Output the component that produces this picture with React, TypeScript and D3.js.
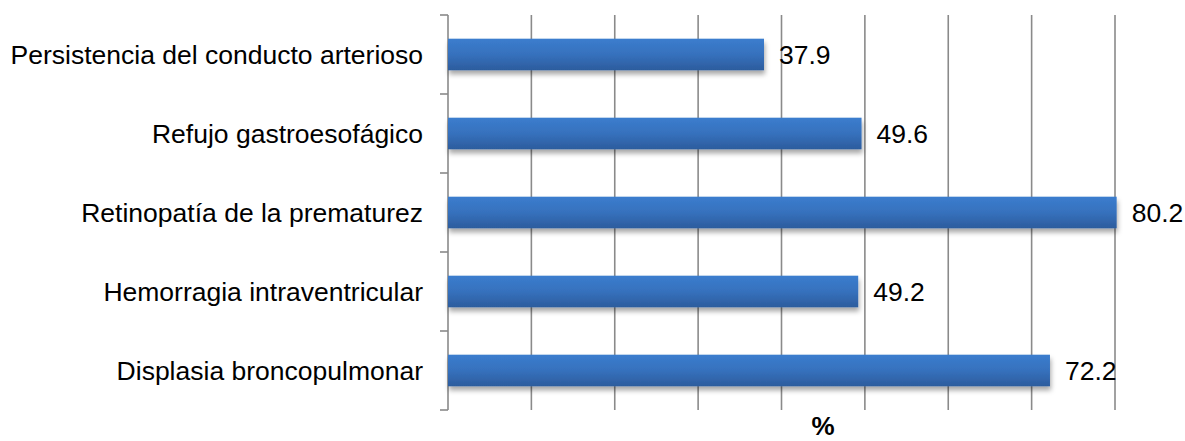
import React from "react";
import * as d3 from "d3";

const categories = [
  "Persistencia del conducto arterioso",
  "Refujo gastroesofágico",
  "Retinopatía de la prematurez",
  "Hemorragia intraventricular",
  "Displasia broncopulmonar",
];
const values = [37.9, 49.6, 80.2, 49.2, 72.2];
const xTicks = [0, 10, 20, 30, 40, 50, 60, 70, 80];
const axisTitle = "%";

const W = 1185;
const H = 441;
const left = 448;
const right = 1115;
const top = 15;
const bottom = 410;

export default function App() {
  const x = d3.scaleLinear().domain([0, 80]).range([left, right]);
  const y = d3.scaleBand<string>().domain(categories).range([top, bottom]).paddingInner(0.6).paddingOuter(0.3);
  const band = d3.scaleBand<string>().domain(categories).range([top, bottom]);
  const font = "'Liberation Sans', Arial, sans-serif";
  const boundaries = [...categories.map((c) => band(c) as number), bottom];
  return (
    <svg width={W} height={H} style={{ position: "absolute", left: 0, top: 0 }}>
      <defs>
        <linearGradient id="barGrad" x1="0" y1="0" x2="0" y2="1">
          <stop offset="0" stopColor="#3b7dce" />
          <stop offset="0.5" stopColor="#3671bd" />
          <stop offset="1" stopColor="#2c5c9d" />
        </linearGradient>
        <filter id="shadow" x="-5%" y="-30%" width="110%" height="180%">
          <feDropShadow dx="1" dy="4" stdDeviation="2.5" floodColor="#000" floodOpacity="0.35" />
        </filter>
      </defs>
      <rect width={W} height={H} fill="#fff" />
      {xTicks.slice(1).map((t) => (
        <line key={t} x1={x(t)} x2={x(t)} y1={top} y2={bottom} stroke="#8a8a8a" strokeWidth={1.6} />
      ))}
      <line x1={left} x2={left} y1={top} y2={bottom} stroke="#8a8a8a" strokeWidth={1.6} />
      {boundaries.map((b, i) => (
        <line key={i} x1={left - 8} x2={left} y1={b} y2={b} stroke="#8a8a8a" strokeWidth={1.6} />
      ))}
      {categories.map((c, i) => (
        <g key={c}>
          <rect
            x={x(0)}
            y={y(c)}
            width={x(values[i]) - x(0)}
            height={y.bandwidth()}
            fill="url(#barGrad)"
            filter="url(#shadow)"
          />
          <text
            x={x(values[i]) + 15}
            y={(y(c) as number) + y.bandwidth() / 2}
            dy="0.36em"
            fontFamily={font}
            fontSize={26.5}
            fill="#000"
          >
            {values[i].toFixed(1)}
          </text>
          <text
            x={423}
            y={(band(c) as number) + band.bandwidth() / 2}
            dy="0.36em"
            textAnchor="end"
            fontFamily={font}
            fontSize={26.5}
            fill="#000"
          >
            {c}
          </text>
        </g>
      ))}
      <text x={823} y={435} textAnchor="middle" fontFamily={font} fontSize={26} fontWeight="bold" fill="#000">
        {axisTitle}
      </text>
    </svg>
  );
}
